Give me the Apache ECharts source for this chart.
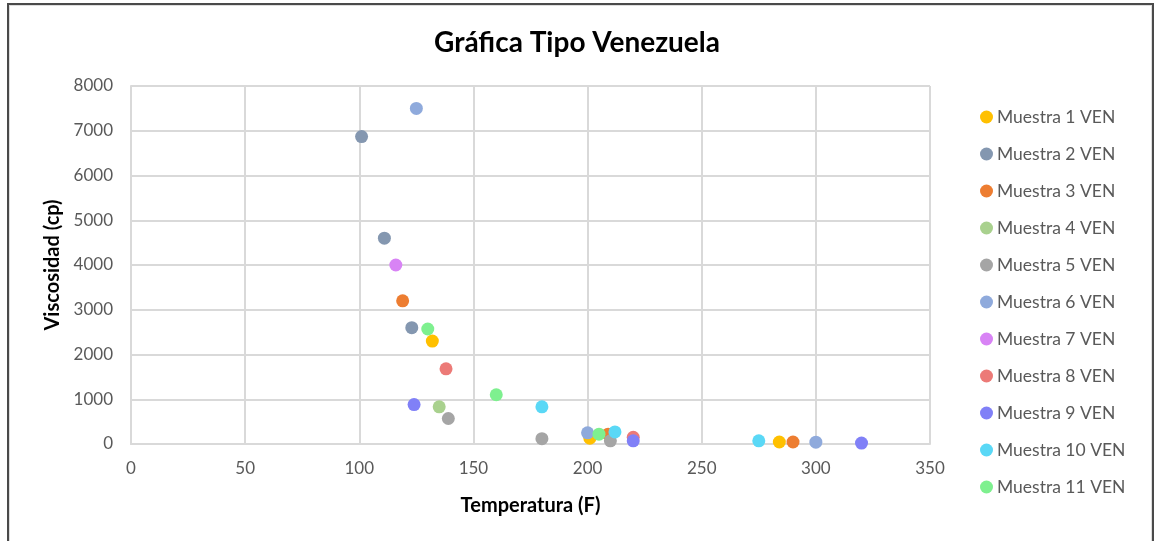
<!DOCTYPE html>
<html>
<head>
<meta charset="utf-8">
<script src="https://cdn.jsdelivr.net/npm/echarts@6/dist/echarts.min.js"></script>
<style>
  html, body { margin: 0; padding: 0; background: #fff; }
  #frame {
    position: absolute; left: 7px; top: 3px; width: 1143px; height: 560px;
    border: 2px solid #4a4a4a; box-shadow: inset 1px 1px 0 #ddd, inset -1px 0 0 #ddd;
  }
  #chart { position: absolute; left: 0; top: 0; width: 1154px; height: 541px; }
</style>
</head>
<body>
<div id="frame"></div>
<div id="chart"></div>
<script>
// muestras (temperatura F, viscosidad cp)
const names = ['Muestra 1 VEN', 'Muestra 2 VEN', 'Muestra 3 VEN', 'Muestra 4 VEN', 'Muestra 5 VEN',
  'Muestra 6 VEN', 'Muestra 7 VEN', 'Muestra 8 VEN', 'Muestra 9 VEN', 'Muestra 10 VEN', 'Muestra 11 VEN']
const colors = ['#ffc000', '#8497b0', '#ed7d31', '#a9d18e', '#a5a5a5',
  '#8faadc', '#d883f5', '#ec7a77', '#8080f7', '#5ad8f6', '#7ef08f']

const muestra1 = [[132, 2300], [201, 130], [284, 45]]
const muestra2 = [[101, 6870], [111, 4600], [123, 2600]]
const muestra3 = [[119, 3200], [209, 220], [290, 45]]
const muestra4 = [[135, 830]]
const muestra5 = [[139, 570], [180, 120], [210, 70]]
const muestra6 = [[125, 7500], [200, 250], [300, 40]]
const muestra7 = [[116, 4000]]
const muestra8 = [[138, 1680], [220, 150]]
const muestra9 = [[124, 880], [220, 70], [320, 20]]
const muestra10 = [[180, 830], [212, 270], [275, 70]]
const muestra11 = [[130, 2570], [160, 1100], [205, 220]]

const allData = [muestra1, muestra2, muestra3, muestra4, muestra5, muestra6,
  muestra7, muestra8, muestra9, muestra10, muestra11]

const font = 'Lato, "Open Sans", sans-serif'
const chart = echarts.init(document.getElementById('chart'))

chart.setOption({
  animation: false,
  color: colors,
  title: {
    text: 'Gráfica Tipo Venezuela',
    left: 'center',
    top: 24,
    textStyle: { fontFamily: font, fontSize: 28, fontWeight: 'bold', color: '#000' }
  },
  legend: {
    orient: 'vertical',
    left: 975,
    top: 103,
    itemWidth: 13,
    itemHeight: 13,
    itemGap: 19,
    icon: 'circle',
    textStyle: { fontFamily: font, fontSize: 17.5, lineHeight: 17, color: '#595959', padding: [0, 0, 0, -1] },
    data: names
  },
  grid: { left: 131, right: 224, top: 86, bottom: 97 },
  xAxis: {
    type: 'value',
    min: 0,
    max: 350,
    interval: 50,
    name: 'Temperatura (F)',
    nameLocation: 'middle',
    nameGap: 52,
    nameTextStyle: { fontFamily: font, fontSize: 20, fontWeight: 'bold', color: '#000' },
    axisLine: { show: true, lineStyle: { color: '#d9d9d9', width: 2 } },
    axisTick: { show: false },
    axisLabel: { fontFamily: font, fontSize: 17, color: '#595959', margin: 16 },
    splitLine: { lineStyle: { color: '#d9d9d9', width: 2 } }
  },
  yAxis: {
    type: 'value',
    min: 0,
    max: 8000,
    interval: 1000,
    name: 'Viscosidad (cp)',
    nameLocation: 'middle',
    nameGap: 63,
    nameTextStyle: { fontFamily: font, fontSize: 20, fontWeight: 'bold', color: '#000' },
    axisLine: { show: true, lineStyle: { color: '#d9d9d9', width: 2 } },
    axisTick: { show: false },
    axisLabel: {
      fontFamily: font, fontSize: 17, color: '#595959', margin: 18,
      formatter: function(v) { return String(v) }
    },
    splitLine: { lineStyle: { color: '#d9d9d9', width: 2 } }
  },
  series: names.map(function(n, i) {
    return {
      name: n,
      type: 'scatter',
      symbol: 'circle',
      symbolSize: 13,
      itemStyle: { color: colors[i], opacity: 1 },
      data: allData[i]
    }
  })
})
</script>
</body>
</html>
